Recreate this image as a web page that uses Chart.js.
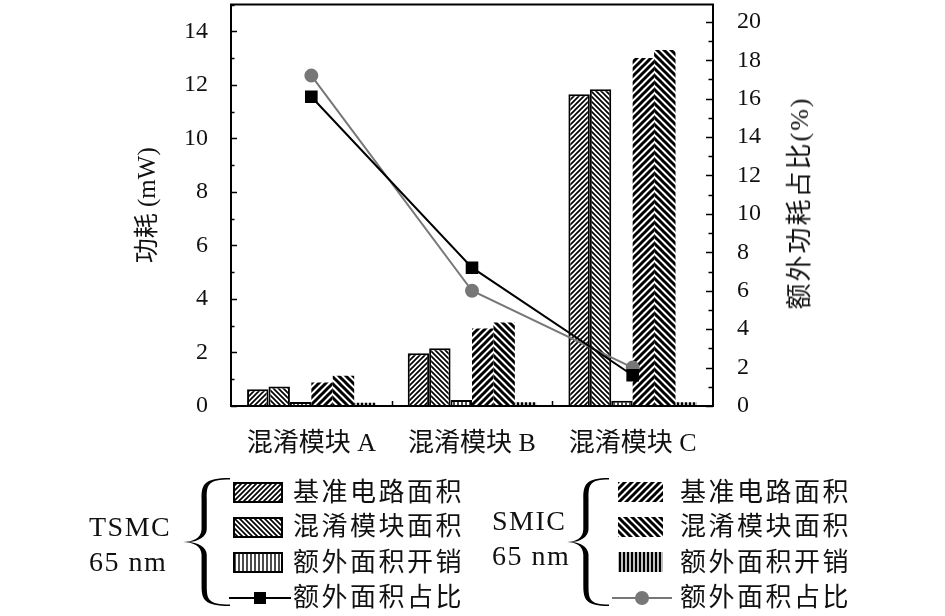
<!DOCTYPE html>
<html>
<head>
<meta charset="utf-8">
<script src="https://cdn.jsdelivr.net/npm/chart.js@4.4.0/dist/chart.umd.min.js"></script>
<style>
  body { margin: 0; background: #fff; }
  #wrap { position: relative; width: 945px; height: 616px; overflow: hidden; color: #111;
          font-family: 'Liberation Serif', 'Noto Sans CJK SC', serif; }
  #c { position: absolute; left: 0; top: -5px; }
  .t { position: absolute; white-space: nowrap; line-height: 30px; }
  .cn { font-size: 26px; letter-spacing: 2.5px; }
  .en { font-size: 28px; letter-spacing: 1.5px; }
  .sw { position: absolute; }
  .ln { position: absolute; height: 2px; }
</style>
</head>
<body>
<div id="wrap">
  <canvas id="c" width="945" height="621"></canvas>

  <div class="t" id="ytitle2" style="left:800px; top:203px; font-size:26px; letter-spacing:2px; transform:translate(-50%,-50%) rotate(-90deg);">额外功耗占比(%)</div>

  <!-- TSMC legend -->
  <div class="t en" style="left:89px; top:512px;">TSMC</div>
  <div class="t en" style="left:89px; top:547px;">65 nm</div>
  <svg class="sw" style="left:183px; top:478px;" width="48" height="129"><path id="brace1" fill="#000"/></svg>
  <canvas class="sw" id="sw1" width="50" height="21" style="left:233px; top:482px;"></canvas>
  <canvas class="sw" id="sw2" width="50" height="21" style="left:233px; top:517px;"></canvas>
  <canvas class="sw" id="sw3" width="50" height="21" style="left:233px; top:552px;"></canvas>
  <div class="ln" style="left:229px; top:597px; width:62px; background:#000;"></div>
  <div class="sw" style="left:254px; top:592px; width:12px; height:12px; background:#000;"></div>
  <div class="t cn" style="left:293px; top:478px;">基准电路面积</div>
  <div class="t cn" style="left:293px; top:512px;">混淆模块面积</div>
  <div class="t cn" style="left:293px; top:548px;">额外面积开销</div>
  <div class="t cn" style="left:293px; top:583px;">额外面积占比</div>

  <!-- SMIC legend -->
  <div class="t en" style="left:492px; top:506px;">SMIC</div>
  <div class="t en" style="left:492px; top:541px;">65 nm</div>
  <svg class="sw" style="left:567px; top:478px;" width="43" height="129"><path id="brace2" fill="#000"/></svg>
  <canvas class="sw" id="sw4" width="45" height="20" style="left:618px; top:482px;"></canvas>
  <canvas class="sw" id="sw5" width="45" height="20" style="left:618px; top:517px;"></canvas>
  <canvas class="sw" id="sw6" width="45" height="20" style="left:618px; top:552px;"></canvas>
  <div class="ln" style="left:612px; top:597px; width:60px; background:#777;"></div>
  <div class="sw" style="left:635px; top:591px; width:14px; height:14px; border-radius:50%; background:#777;"></div>
  <div class="t cn" style="left:680px; top:478px;">基准电路面积</div>
  <div class="t cn" style="left:680px; top:512px;">混淆模块面积</div>
  <div class="t cn" style="left:680px; top:548px;">额外面积开销</div>
  <div class="t cn" style="left:680px; top:583px;">额外面积占比</div>
</div>

<script>
// data
const categories = ['混淆模块 A', '混淆模块 B', '混淆模块 C'];
const tsmcBase = [0.63, 1.97, 11.65];
const tsmcObf = [0.73, 2.16, 11.83];
const tsmcExtra = [0.15, 0.22, 0.2];
const smicBase = [0.88, 2.9, 13.0];
const smicObf = [1.13, 3.12, 13.3];
const smicExtra = [0.12, 0.14, 0.14];
const tsmcRatio = [16.1, 7.2, 1.6];
const smicRatio = [17.2, 6.0, 2.0];
const powerTicks = [0, 2, 4, 6, 8, 10, 12, 14];
const ratioTicks = [0, 2, 4, 6, 8, 10, 12, 14, 16, 18, 20];

const serif = "'Liberation Serif', 'Noto Sans CJK SC', serif";

// hatch styles
const hatch = {
  fwdThin:  { size: 5, width: 1.7, dir: 'f' },
  backThin: { size: 5, width: 1.7, dir: 'b' },
  vertThin: { size: 4, width: 1.4, dir: 'v' },
  fwdThick: { size: 7, width: 3, dir: 'f' },
  backThick:{ size: 7, width: 3, dir: 'b' },
  vertThick:{ size: 4, width: 2.5, dir: 'v' }
};

function makeTile(kind) {
  const s = hatch[kind], n = s.size;
  const c = document.createElement('canvas');
  c.width = n; c.height = n;
  const g = c.getContext('2d');
  g.fillStyle = '#fff';
  g.fillRect(0, 0, n, n);
  g.strokeStyle = '#000';
  g.lineWidth = s.width;
  g.beginPath();
  if (s.dir === 'v') {
    g.moveTo(n / 2, 0); g.lineTo(n / 2, n);
  } else if (s.dir === 'f') {
    g.moveTo(0, n); g.lineTo(n, 0);
    g.moveTo(-n / 2, n / 2); g.lineTo(n / 2, -n / 2);
    g.moveTo(n / 2, n * 1.5); g.lineTo(n * 1.5, n / 2);
  } else {
    g.moveTo(0, 0); g.lineTo(n, n);
    g.moveTo(-n / 2, n / 2); g.lineTo(n / 2, n * 1.5);
    g.moveTo(n / 2, -n / 2); g.lineTo(n * 1.5, n / 2);
  }
  g.stroke();
  return c;
}

function fillSwatch(id, kind, border) {
  const cv = document.getElementById(id);
  const g = cv.getContext('2d');
  g.fillStyle = g.createPattern(makeTile(kind), 'repeat');
  g.fillRect(0, 0, cv.width, cv.height);
  if (border) {
    g.strokeStyle = '#000';
    g.lineWidth = 2;
    g.strokeRect(1, 1, cv.width - 2, cv.height - 2);
  }
}
fillSwatch('sw1', 'fwdThin', true);
fillSwatch('sw2', 'backThin', true);
fillSwatch('sw3', 'vertThin', true);
fillSwatch('sw4', 'fwdThick', false);
fillSwatch('sw5', 'backThick', false);
fillSwatch('sw6', 'vertThick', false);

function bracePath(W, H) {
  const m = H / 2, s = W * 0.45, t = 2.6;
  return `M ${W},0 C ${s},0 ${s - t},${H * 0.05} ${s - t},${H * 0.16} ` +
    `L ${s - t},${m - H * 0.1} C ${s - t},${m - H * 0.03} ${W * 0.2},${m} 0,${m} ` +
    `C ${W * 0.2},${m} ${s - t},${m + H * 0.03} ${s - t},${m + H * 0.1} ` +
    `L ${s - t},${H * 0.84} C ${s - t},${H * 0.95} ${s},${H} ${W},${H} ` +
    `L ${W},${H - 1.5} C ${s + t * 1.5},${H - 1.5} ${s + t},${H * 0.95} ${s + t},${H * 0.84} ` +
    `L ${s + t},${m + H * 0.1} C ${s + t},${m + H * 0.04} ${W * 0.3},${m} ${W * 0.1},${m} ` +
    `C ${W * 0.3},${m} ${s + t},${m - H * 0.04} ${s + t},${m - H * 0.1} ` +
    `L ${s + t},${H * 0.16} C ${s + t},${H * 0.05} ${s + t * 1.5},1.5 ${W},1.5 Z`;
}
document.getElementById('brace1').setAttribute('d', bracePath(47, 128));
document.getElementById('brace2').setAttribute('d', bracePath(42, 128));

const ctx = document.getElementById('c').getContext('2d');
const pat = {};
Object.keys(hatch).forEach(k => { pat[k] = ctx.createPattern(makeTile(k), 'repeat'); });

// frame and inward ticks
const frameTicks = {
  id: 'frameTicks',
  afterDraw(chart) {
    const { ctx, chartArea: a, scales } = chart;
    ctx.save();
    ctx.strokeStyle = '#000';
    ctx.lineWidth = 1.5;
    ctx.beginPath();
    for (let v = 0; v <= 15; v++) {
      const y = Math.round(scales.y.getPixelForValue(v)) + 0.5;
      const len = v % 2 === 0 ? 6 : 3.5;
      ctx.moveTo(a.left, y); ctx.lineTo(a.left + len, y);
    }
    for (let v = 0; v <= 20; v++) {
      const y = Math.round(scales.y2.getPixelForValue(v)) + 0.5;
      const len = v % 2 === 0 ? 7 : 4.5;
      ctx.moveTo(a.right, y); ctx.lineTo(a.right - len, y);
    }
    for (let i = 0; i < categories.length - 1; i++) {
      const x = Math.round(scales.x.getPixelForValue(i + 0.5)) + 0.5;
      ctx.moveTo(x, a.bottom); ctx.lineTo(x, a.bottom - 5);
    }
    ctx.stroke();
    ctx.lineWidth = 2;
    ctx.strokeRect(a.left, a.top, a.right - a.left, a.bottom - a.top);
    ctx.restore();
  }
};

function noPad(s) {
  s.paddingTop = 0; s.paddingBottom = 0; s.paddingLeft = 0; s.paddingRight = 0;
}

new Chart(ctx, {
  type: 'bar',
  data: {
    labels: categories,
    datasets: [
      { label: 'TSMC 基准电路面积', data: tsmcBase, backgroundColor: pat.fwdThin, borderColor: '#000', borderWidth: 2, yAxisID: 'y', order: 3 },
      { label: 'TSMC 混淆模块面积', data: tsmcObf, backgroundColor: pat.backThin, borderColor: '#000', borderWidth: 2, yAxisID: 'y', order: 3 },
      { label: 'TSMC 额外面积开销', data: tsmcExtra, backgroundColor: pat.vertThin, borderColor: '#000', borderWidth: 2, yAxisID: 'y', order: 3 },
      { label: 'SMIC 基准电路面积', data: smicBase, backgroundColor: pat.fwdThick, borderWidth: 0, yAxisID: 'y', order: 3 },
      { label: 'SMIC 混淆模块面积', data: smicObf, backgroundColor: pat.backThick, borderWidth: 0, yAxisID: 'y', order: 3 },
      { label: 'SMIC 额外面积开销', data: smicExtra, backgroundColor: pat.vertThick, borderWidth: 0, yAxisID: 'y', order: 3 },
      { type: 'line', label: 'SMIC 额外面积占比', data: smicRatio, yAxisID: 'y2', borderColor: '#777', borderWidth: 2,
        pointStyle: 'circle', pointRadius: 6, pointBackgroundColor: '#777', pointBorderColor: '#777', order: 1 },
      { type: 'line', label: 'TSMC 额外面积占比', data: tsmcRatio, yAxisID: 'y2', borderColor: '#000', borderWidth: 2,
        pointStyle: 'rect', pointRadius: 7.5, pointBackgroundColor: '#000', pointBorderColor: '#000', order: 0 }
    ]
  },
  options: {
    responsive: false,
    animation: false,
    devicePixelRatio: 1,
    layout: { padding: { left: 0, right: 0, top: 0, bottom: 0 } },
    plugins: { legend: { display: false }, tooltip: { enabled: false } },
    datasets: { bar: { categoryPercentage: 0.8, barPercentage: 1.0 } },
    scales: {
      x: {
        grid: { display: false, drawTicks: false },
        border: { display: false },
        ticks: { font: { family: serif, size: 26 }, color: '#111', padding: 23, maxRotation: 0, autoSkip: false },
        afterFit: s => { s.height = 210; noPad(s); }
      },
      y: {
        position: 'left', min: 0, max: 15,
        grid: { display: false, drawTicks: false },
        border: { display: false },
        afterBuildTicks: s => { s.ticks = powerTicks.map(v => ({ value: v })); },
        ticks: { font: { family: serif, size: 24 }, color: '#111', padding: 23 },
        title: { display: true, text: '功耗 (mW)', font: { family: serif, size: 25 }, color: '#111', padding: { top: 133, bottom: 0 } },
        afterFit: s => { s.width = 231; noPad(s); }
      },
      y2: {
        position: 'right', min: 0, max: 20.9,
        grid: { display: false, drawTicks: false },
        border: { display: false },
        afterBuildTicks: s => { s.ticks = ratioTicks.map(v => ({ value: v })); },
        ticks: { font: { family: serif, size: 24 }, color: '#111', padding: 24 },
        afterFit: s => { s.width = 232; noPad(s); }
      }
    }
  },
  plugins: [frameTicks]
});
</script>
</body>
</html>
